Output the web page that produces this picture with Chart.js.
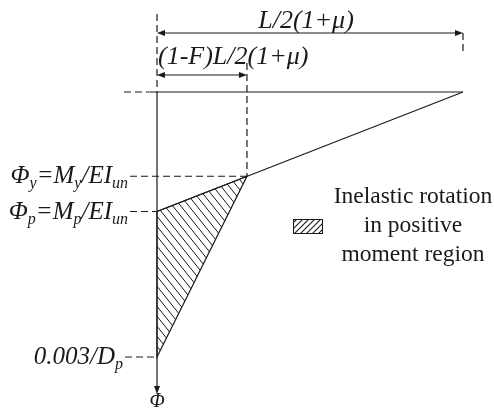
<!DOCTYPE html>
<html lang="en">
<head>
<meta charset="UTF-8">
<script src="https://cdn.jsdelivr.net/npm/chart.js@4.4.0/dist/chart.umd.min.js"></script>
<title>Inelastic rotation in positive moment region</title>
<style>
    html, body { margin: 0; padding: 0; background: #fff; }
    #wrap { width: 494px; height: 408px; }
</style>
</head>
<body>
<div id="wrap"><canvas id="myChart"></canvas></div>
<script>
// positions along the half span, as a fraction of L/2(1+mu)
const spanMarks = [0, 0.294, 1];              // support, (1-F)L/2(1+mu), L/2(1+mu)
// curvature levels going down the axis, scaled so that 0.003/Dp = 1
const phiMarks = [0.318, 0.451, 1.0];         // phi_y, phi_p, phi_u
// labels: [text, subscript?]
const phiLabels = [
    [['Φ', 0], ['y', 1], ['=M', 0], ['y', 1], ['/EI', 0], ['un', 1]],
    [['Φ', 0], ['p', 1], ['=M', 0], ['p', 1], ['/EI', 0], ['un', 1]],
    [['0.003/D', 0], ['p', 1]]
];
const spanLabels = ['(1-F)L/2(1+μ)', 'L/2(1+μ)'];
const legendLines = ['Inelastic rotation', 'in positive', 'moment region'];

const INK = '#1a1a1a';
const SERIF = '"Liberation Serif", "DejaVu Serif", serif';

function hatch(w, h, slash, lw) {
    const c = document.createElement('canvas');
    c.width = w; c.height = h;
    const g = c.getContext('2d');
    g.strokeStyle = INK;
    g.lineWidth = lw;
    for (const o of [-w, 0, w]) {
        g.beginPath();
        if (slash) { g.moveTo(o - w, 2 * h); g.lineTo(o + 2 * w, -h); }
        else { g.moveTo(o - w, -h); g.lineTo(o + 2 * w, 2 * h); }
        g.stroke();
    }
    return g.createPattern(c, 'repeat');
}

function richWidth(ctx, segs, size) {
    let w = 0;
    for (const [t, sub] of segs) {
        ctx.font = 'italic ' + (sub ? size * 0.64 : size) + 'px ' + SERIF;
        w += ctx.measureText(t).width;
    }
    return w;
}

function drawRich(ctx, segs, x, y, size, align) {
    let cx = align === 'right' ? x - richWidth(ctx, segs, size) : x;
    ctx.textAlign = 'left';
    ctx.textBaseline = 'alphabetic';
    for (const [t, sub] of segs) {
        ctx.font = 'italic ' + (sub ? size * 0.64 : size) + 'px ' + SERIF;
        ctx.fillText(t, cx, sub ? y + size * 0.2 : y);
        cx += ctx.measureText(t).width;
    }
}

function arrowHead(ctx, x, y, dir) {
    const L = 8, W = 3;
    ctx.beginPath();
    if (dir === 'right') { ctx.moveTo(x, y); ctx.lineTo(x - L, y - W); ctx.lineTo(x - L, y + W); }
    if (dir === 'left') { ctx.moveTo(x, y); ctx.lineTo(x + L, y - W); ctx.lineTo(x + L, y + W); }
    if (dir === 'down') { ctx.moveTo(x, y); ctx.lineTo(x - W, y - L); ctx.lineTo(x + W, y - L); }
    ctx.closePath();
    ctx.fill();
}

function seg(ctx, x1, y1, x2, y2, dashed) {
    ctx.setLineDash(dashed ? [7, 4] : []);
    ctx.beginPath();
    ctx.moveTo(x1, y1);
    ctx.lineTo(x2, y2);
    ctx.stroke();
}

// leaders, dimension lines, labels and legend
const annotations = {
    id: 'annotations',
    afterDatasetsDraw(chart) {
        const ctx = chart.ctx;
        const xs = chart.scales.x, ys = chart.scales.y;
        const x0 = xs.getPixelForValue(spanMarks[0]);
        const xF = xs.getPixelForValue(spanMarks[1]);
        const x1 = xs.getPixelForValue(spanMarks[2]);
        const y0 = ys.getPixelForValue(0);
        const yy = ys.getPixelForValue(phiMarks[0]);
        const yp = ys.getPixelForValue(phiMarks[1]);
        const yu = ys.getPixelForValue(phiMarks[2]);

        ctx.save();
        ctx.strokeStyle = INK;
        ctx.fillStyle = INK;
        ctx.lineWidth = 1.2;

        // dashed extension lines
        seg(ctx, x0, 14, x0, y0, true);
        seg(ctx, xF, 63, xF, yy, true);
        seg(ctx, x1, 33, x1, 54, true);
        seg(ctx, 124, y0, x0 - 8, y0, true);

        // curvature axis with arrow
        seg(ctx, x0, y0, x0, 386, false);
        arrowHead(ctx, x0, 394, 'down');

        // dimension lines
        seg(ctx, x0 + 4, 33, x1 - 4, 33, false);
        arrowHead(ctx, x0, 33, 'left');
        arrowHead(ctx, x1, 33, 'right');
        seg(ctx, x0 + 4, 75, xF - 4, 75, false);
        arrowHead(ctx, x0, 75, 'left');
        arrowHead(ctx, xF, 75, 'right');

        ctx.setLineDash([]);
        ctx.font = 'italic 26px ' + SERIF;
        ctx.textBaseline = 'alphabetic';
        ctx.textAlign = 'left';
        ctx.fillText(spanLabels[0], x0 + 1, 64);
        ctx.textAlign = 'center';
        ctx.fillText(spanLabels[1], (x0 + x1) / 2 - 4, 28);

        // curvature labels with leaders
        const levels = [yy, yp, yu];
        const ends = [xF, x0, x0];
        const rights = [128, 128, 123];
        levels.forEach((py, i) => {
            drawRich(ctx, phiLabels[i], rights[i], py + 7, 25, 'right');
            seg(ctx, rights[i] + 2, py, ends[i], py, true);
        });
        ctx.setLineDash([]);
        ctx.font = 'italic 20px ' + SERIF;
        ctx.textAlign = 'center';
        ctx.fillText('Φ', x0, 407);

        // legend
        ctx.fillStyle = hatch(6, 6, true, 1.1);
        ctx.fillRect(293, 219, 29, 14);
        ctx.lineWidth = 1;
        ctx.strokeRect(293.5, 219.5, 29, 14);
        ctx.fillStyle = INK;
        ctx.font = '23.5px ' + SERIF;
        ctx.textAlign = 'center';
        legendLines.forEach((t, i) => ctx.fillText(t, 413, 203 + i * 29));
        ctx.restore();
    }
};

const ctx = document.getElementById('myChart').getContext('2d');

const data = {
    datasets: [
        {
            // hatched triangle between phi_p, phi_y and phi_u
            data: [
                { x: spanMarks[0], y: phiMarks[1] },
                { x: spanMarks[1], y: phiMarks[0] },
                { x: spanMarks[0], y: phiMarks[2] },
                { x: spanMarks[0], y: phiMarks[1] }
            ],
            fill: 'shape',
            backgroundColor: hatch(8, 10, false, 1),
            borderColor: INK,
            borderWidth: 1.2
        },
        {
            // curvature profile along the span
            data: [
                { x: spanMarks[0], y: phiMarks[1] },
                { x: spanMarks[2], y: 0 }
            ],
            borderColor: INK,
            borderWidth: 1.2
        },
        {
            // span axis
            data: [
                { x: -0.025, y: 0 },
                { x: spanMarks[2], y: 0 }
            ],
            borderColor: INK,
            borderWidth: 1.2
        }
    ]
};

const config = {
    type: 'scatter',
    data: data,
    options: {
        responsive: true,
        maintainAspectRatio: false,
        animation: false,
        showLine: true,
        clip: false,
        elements: { point: { radius: 0 }, line: { tension: 0 } },
        layout: { padding: { left: 157, right: 31, top: 92, bottom: 51 } },
        plugins: { legend: { display: false }, tooltip: { enabled: false } },
        scales: {
            x: { type: 'linear', min: 0, max: 1, display: false },
            y: { type: 'linear', min: 0, max: 1, reverse: true, display: false }
        }
    },
    plugins: [annotations]
};

new Chart(ctx, config);
</script>
</body>
</html>
